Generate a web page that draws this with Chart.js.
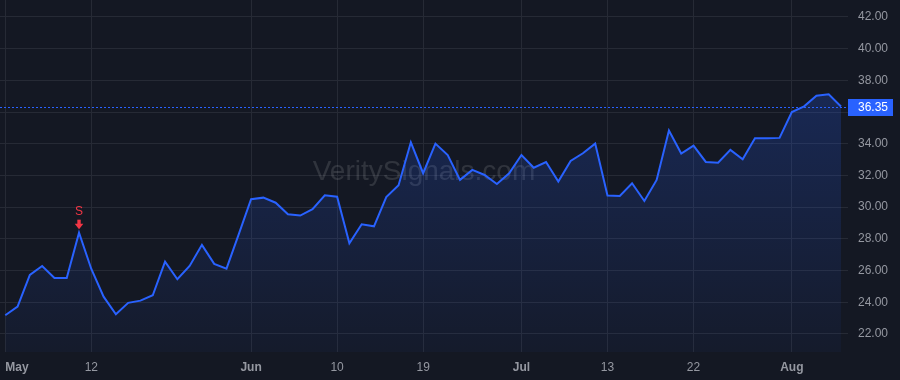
<!DOCTYPE html>
<html><head><meta charset="utf-8">
<script src="https://cdn.jsdelivr.net/npm/chart.js@4.4.1/dist/chart.umd.min.js"></script>
<style>html,body{margin:0;padding:0;background:#141823;}#wrap{width:900px;height:380px;position:relative}</style>
</head><body><div id="wrap"><canvas id="c" width="900" height="380"></canvas></div>
<script>
// ---- data ----
const values = [
  23.18, 23.72, 25.72, 26.29, 25.53, 25.53, 28.39, 26.10, 24.35, 23.24,
  23.96, 24.10, 24.44, 26.56, 25.45, 26.29, 27.62, 26.42, 26.12, 28.30,
  30.50, 30.60, 30.28, 29.55, 29.47, 29.87, 30.75, 30.66, 27.72, 28.92,
  28.79, 30.64, 31.38, 34.09, 32.14, 34.01, 33.29, 31.72, 32.35, 32.03,
  31.46, 32.14, 33.29, 32.49, 32.85, 31.61, 32.91, 33.40, 34.01, 30.73,
  30.71, 31.51, 30.39, 31.72, 34.83, 33.38, 33.88, 32.85, 32.80, 33.61,
  33.02, 34.34, 34.34, 34.37, 36.00, 36.36, 37.03, 37.12, 36.35
];
const xTickIndex  = [0, 7, 20, 27, 34, 42, 49, 56, 64];
const xTickLabels = ['May', '12', 'Jun', '10', '19', 'Jul', '13', '22', 'Aug'];
const monthLabels = ['May', 'Jun', 'Jul', 'Aug'];
const yTickValues = [22, 24, 26, 28, 30, 32, 34, 36, 38, 40, 42];
const signalIndex = [6];
const signalText  = ['S'];
const watermarkText = 'VeritySignals.com';
const lastPrice = values[values.length - 1];

// ---- styles ----
const BG = '#141823';
const GRID = '#262a35';
const BLUE = '#2962ff';
const LABEL = '#9598a1';
const FONT = "'Liberation Sans', Arial, sans-serif";
const X_MIN = -0.43, X_MAX = values.length - 1 + 0.57;

const bgPlugin = {
  id: 'bg',
  beforeDraw(chart) {
    const c = chart.ctx;
    c.save(); c.fillStyle = BG; c.fillRect(0, 0, chart.width, chart.height); c.restore();
  }
};
const watermarkPlugin = {
  id: 'wm',
  beforeDatasetsDraw(chart) {
    const c = chart.ctx, a = chart.chartArea;
    c.save();
    c.font = "28px " + FONT;
    c.fillStyle = 'rgba(255,255,255,0.12)';
    c.textAlign = 'center'; c.textBaseline = 'middle';
    c.fillText(watermarkText, (a.left + a.right) / 2, 172);
    c.restore();
  }
};
const overlayPlugin = {
  id: 'overlay',
  afterDatasetsDraw(chart) {
    const c = chart.ctx, a = chart.chartArea;
    const ys = chart.scales.y;
    const py = Math.round(ys.getPixelForValue(lastPrice)) + 0.5;
    c.save();
    c.strokeStyle = BLUE; c.lineWidth = 1; c.setLineDash([2, 2]);
    c.beginPath(); c.moveTo(a.left, py); c.lineTo(a.right, py); c.stroke();
    c.setLineDash([]);
    // signals
    const meta = chart.getDatasetMeta(0);
    signalIndex.forEach((idx, k) => {
      const p = meta.data[idx];
      const x = p.x, y = p.y;
      c.fillStyle = '#f23645';
      c.font = "12px " + FONT;
      c.textAlign = 'center'; c.textBaseline = 'middle';
      c.fillText(signalText[k], x, y - 21);
      // arrow
      c.beginPath();
      c.rect(x - 1.7, y - 13, 3.4, 5);
      c.fill();
      c.beginPath();
      c.moveTo(x - 4.3, y - 9); c.lineTo(x + 4.3, y - 9); c.lineTo(x, y - 3.5); c.closePath();
      c.fill();
    });
    c.restore();
  },
  afterDraw(chart) {
    const c = chart.ctx, a = chart.chartArea;
    const ys = chart.scales.y;
    const py = ys.getPixelForValue(lastPrice);
    c.save();
    c.fillStyle = BLUE;
    c.fillRect(a.right, Math.round(py) - 8, 45, 17);
    c.fillStyle = '#ffffff';
    c.font = "12px " + FONT;
    c.textAlign = 'left'; c.textBaseline = 'middle';
    c.fillText(lastPrice.toFixed(2), a.right + 10, Math.round(py) + 0.5);
    c.restore();
  }
};

const ctx = document.getElementById('c').getContext('2d');
new Chart(ctx, {
  type: 'line',
  data: {
    datasets: [{
      data: values.map((v, i) => ({ x: i, y: v })),
      borderColor: BLUE,
      borderWidth: 2,
      pointRadius: 0,
      tension: 0,
      fill: 'start',
      backgroundColor: (context) => {
        const chart = context.chart; const a = chart.chartArea;
        if (!a) return 'rgba(41,98,255,0.12)';
        const g = chart.ctx.createLinearGradient(0, 95, 0, a.bottom);
        g.addColorStop(0, 'rgba(41,98,255,0.22)');
        g.addColorStop(1, 'rgba(41,98,255,0.04)');
        return g;
      }
    }]
  },
  options: {
    responsive: false,
    devicePixelRatio: 1,
    animation: false,
    layout: { padding: 0 },
    plugins: { legend: { display: false }, tooltip: { enabled: false } },
    scales: {
      x: {
        type: 'linear', min: X_MIN, max: X_MAX,
        afterBuildTicks(scale) {
          scale.ticks = xTickIndex.map(v => ({ value: v })).concat([{ value: X_MAX }]);
        },
        afterFit(scale) { scale.height = 28; scale.paddingLeft = 0; scale.paddingRight = 0; },
        grid: {
          color: (c) => (c.tick && c.tick.value === X_MAX) ? 'rgba(0,0,0,0)' : GRID,
          drawTicks: false, lineWidth: 1
        },
        border: { display: false },
        ticks: {
          autoSkip: false, maxRotation: 0, minRotation: 0, align: 'inner', padding: 8,
          color: LABEL,
          font: (c) => ({ family: FONT, size: 12, weight: (c.tick && monthLabels.includes(xTickLabels[xTickIndex.indexOf(c.tick.value)])) ? 'bold' : 'normal' }),
          callback: (v) => { const k = xTickIndex.indexOf(v); return k >= 0 ? xTickLabels[k] : ''; }
        }
      },
      y: {
        type: 'linear', position: 'right', min: 20.86, max: 43.07,
        afterBuildTicks(scale) { scale.ticks = yTickValues.map(v => ({ value: v })); },
        afterFit(scale) { scale.width = 52; scale.paddingTop = 0; scale.paddingBottom = 0; },
        grid: { color: GRID, drawTicks: false, lineWidth: 1 },
        border: { display: false },
        ticks: {
          padding: 10, color: LABEL,
          font: { family: FONT, size: 12 },
          callback: (v) => Number(v).toFixed(2)
        }
      }
    }
  },
  plugins: [bgPlugin, watermarkPlugin, overlayPlugin]
});
</script></body></html>
